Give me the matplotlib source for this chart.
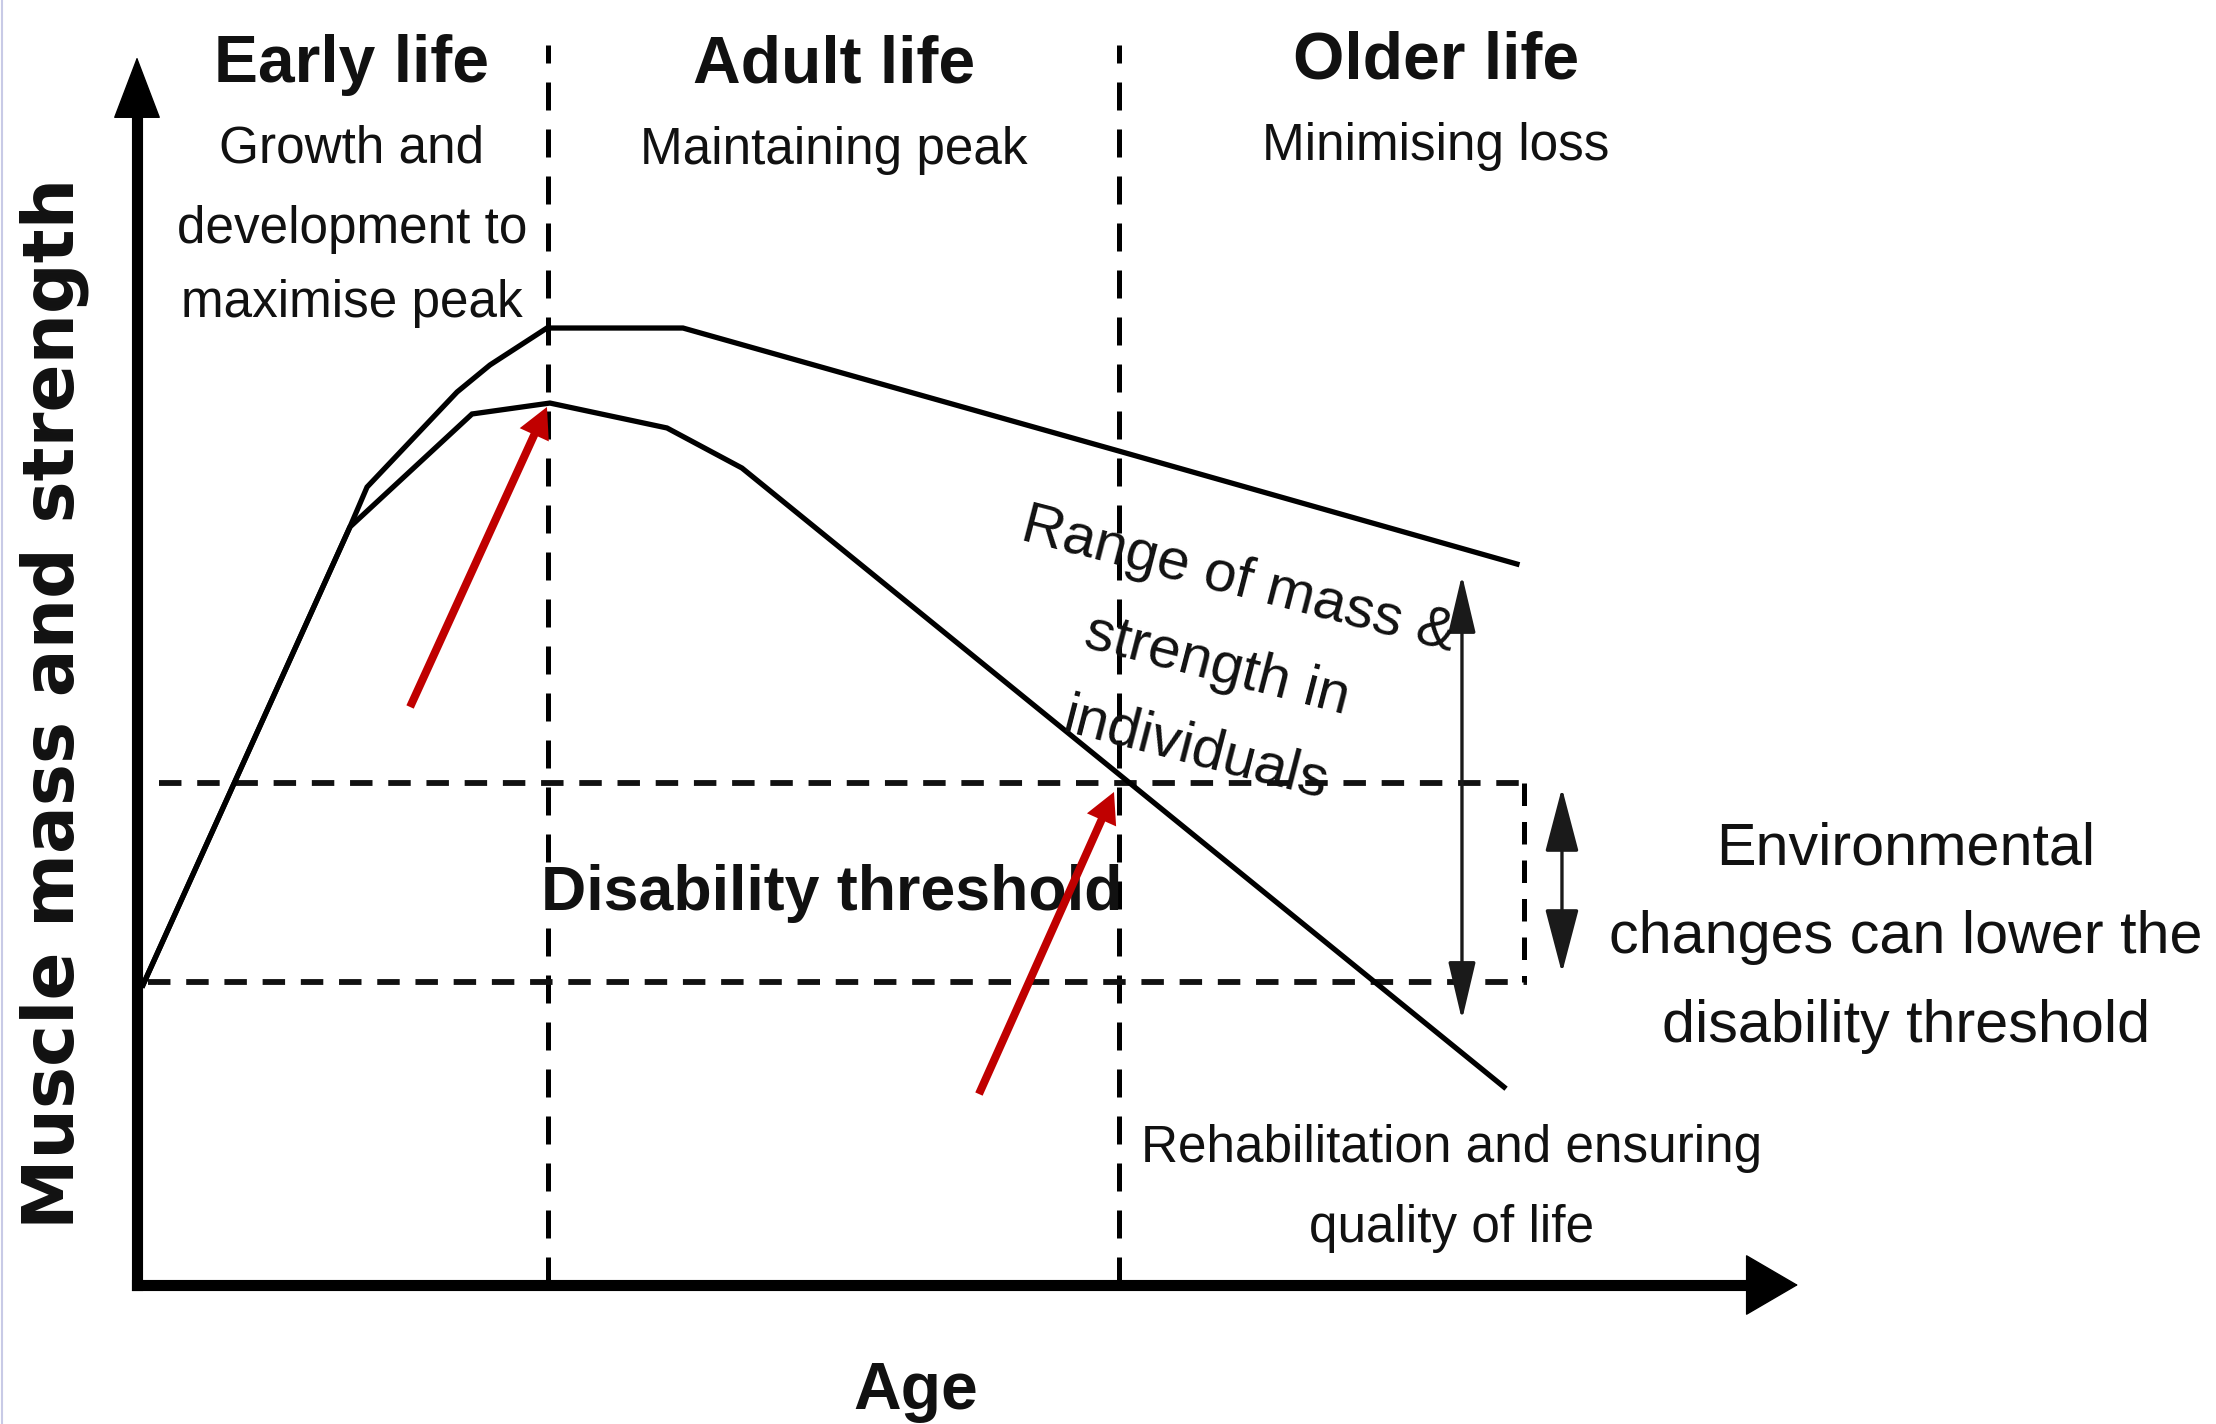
import matplotlib
matplotlib.use("Agg")
import matplotlib.pyplot as plt
from matplotlib import font_manager as fm
from matplotlib.lines import Line2D

# ---------------- data (conceptual units: age 0-100, strength 0-100) ----------------
age_upper = [0.36, 12.82, 13.85, 19.27, 21.25, 24.68, 32.87, 59.12, 83.08]
strength_upper = [24.43, 61.73, 64.98, 72.72, 74.92, 77.93, 77.93, 67.91, 58.71]

age_lower = [0.36, 12.82, 20.17, 24.86, 31.91, 36.42, 82.30]
strength_lower = [24.43, 61.73, 70.93, 71.82, 69.79, 66.53, 16.12]

stage_bounds = [24.74, 59.12]          # ages separating life stages
stage_line_top = 100.98
threshold_levels = [40.88, 24.67]      # disability threshold (normal, lowered)
threshold_starts = [1.32, 0.66]
threshold_end = 83.68
env_box_age = 83.50

stage_titles = ["Early life", "Adult life", "Older life"]
stage_centres = [12.94, 41.96, 78.20]
stage_title_y = [97.96, 97.96, 98.29]
stage_subtitles = [["Growth and", "development to", "maximise peak"],
                   ["Maintaining peak"],
                   ["Minimising loss"]]
stage_subtitle_y = [[91.37, 84.85, 78.83], [91.29], [91.61]]

red_arrow_tails = [(16.44, 47.07), (50.69, 15.55)]
red_arrow_tips = [(24.68, 71.50), (58.82, 40.15)]

range_arrow_age = 79.77
range_arrow_span = (21.58, 57.82)
env_arrow_age = 85.79
env_arrow_span = (25.41, 40.47)

# ---------------- fonts ----------------
def font_available(name):
    try:
        fm.findfont(fm.FontProperties(family=name), fallback_to_default=False)
        return True
    except Exception:
        return False

if font_available("Liberation Sans Narrow"):
    FAM = ["Liberation Sans Narrow", "DejaVu Sans"]
    K = 1.0
else:
    FAM = ["Liberation Sans", "DejaVu Sans"]
    K = 0.82

RED = "#C00000"

fig = plt.figure(figsize=(22.16, 14.24), dpi=100)
fig.patch.set_facecolor("white")
ax = fig.add_axes([0, 0, 1, 1])
ax.set_xlim(-8.248, 125.166)
ax.set_ylim(-11.319, 104.642)
ax.axis("off")

# faint left border of the original picture
fig.add_artist(Line2D([0.0007, 0.0007], [0, 1], transform=fig.transFigure,
                      color="#c8cae6", lw=1.5))

# ---------------- axes with arrows ----------------
ax.plot([0, 0], [0, 95.7], color="black", lw=8, solid_capstyle="projecting", zorder=5)
ax.plot([0, 97.7], [0, 0], color="black", lw=8, solid_capstyle="projecting", zorder=5)
ax.annotate("", xy=(0, 100), xytext=(0, 90),
            arrowprops=dict(arrowstyle="-|>,head_length=42,head_width=16",
                            mutation_scale=1, lw=1, color="black",
                            shrinkA=0, shrinkB=0), zorder=6)
ax.annotate("", xy=(100, 0), xytext=(94, 0),
            arrowprops=dict(arrowstyle="-|>,head_length=36,head_width=21",
                            mutation_scale=1, lw=1, color="black",
                            shrinkA=0, shrinkB=0), zorder=6)

# ---------------- dashed guide lines ----------------
for b in stage_bounds:
    ax.plot([b, b], [0, stage_line_top], color="black", lw=3.6,
            linestyle=(0, (5.6, 3.8)), zorder=2)
for lvl, x0 in zip(threshold_levels, threshold_starts):
    ax.plot([x0, threshold_end], [lvl, lvl], color="#111111", lw=4.2,
            linestyle=(0, (3.85, 2.7)), zorder=2)
ax.plot([env_box_age, env_box_age], threshold_levels, color="black", lw=3.6,
        linestyle=(0, (4.5, 3.2)), zorder=2)

# ---------------- curves ----------------
ax.plot(age_upper, strength_upper, color="black", lw=3.8, zorder=4,
        solid_joinstyle="miter")
ax.plot(age_lower, strength_lower, color="black", lw=3.8, zorder=4,
        solid_joinstyle="miter")

# ---------------- arrows ----------------
for tail, tip in zip(red_arrow_tails, red_arrow_tips):
    ax.annotate("", xy=tip, xytext=tail,
                arrowprops=dict(arrowstyle="simple,head_length=22,head_width=23,tail_width=5.8",
                                mutation_scale=1, color=RED, lw=0,
                                shrinkA=0, shrinkB=0), zorder=8)

ax.annotate("", xy=(range_arrow_age, range_arrow_span[0]),
            xytext=(range_arrow_age, range_arrow_span[1]),
            arrowprops=dict(arrowstyle="<|-|>,head_length=36,head_width=8.5",
                            mutation_scale=1, color="#1a1a1a", lw=2.4,
                            shrinkA=0, shrinkB=0), zorder=6)
ax.annotate("", xy=(env_arrow_age, env_arrow_span[0]),
            xytext=(env_arrow_age, env_arrow_span[1]),
            arrowprops=dict(arrowstyle="<|-|>,head_length=40,head_width=10.5",
                            mutation_scale=1, color="#1a1a1a", lw=2.4,
                            shrinkA=0, shrinkB=0), zorder=6)

# ---------------- texts ----------------
def txt(x, y, s, size, bold=False, **kw):
    ax.text(x, y, s, fontsize=size * K, fontweight="bold" if bold else "normal",
            family=FAM, ha="center", va="baseline", color="#111111", zorder=7, **kw)

for title, cx, ty, subs, sys_ in zip(stage_titles, stage_centres, stage_title_y,
                                     stage_subtitles, stage_subtitle_y):
    txt(cx, ty, title, 58, bold=True)
    for s, sy in zip(subs, sys_):
        txt(cx, sy, s, 45)

txt(41.84, 30.54, "Disability threshold", 55, bold=True)
txt(46.90, -10.10, "Age", 58, bold=True)

for s, sy in zip(["Environmental", "changes can lower the", "disability threshold"],
                 [34.28, 27.04, 19.79]):
    txt(106.50, sy, s, 52)

for s, sy in zip(["Rehabilitation and ensuring", "quality of life"], [10.02, 3.50]):
    txt(79.17, sy, s, 45)

ax.text(65.02, 50.45, "Range of mass &\nstrength in\nindividuals",
        rotation=-14.5, rotation_mode="anchor", ha="center", va="center",
        multialignment="center", linespacing=1.8, fontsize=51 * K,
        family=FAM, color="#111111", zorder=7)

ax.text(-5.0, 47.39, "Muscle mass and strength", rotation=90,
        ha="center", va="center", fontsize=51, fontweight="bold",
        family=["DejaVu Sans"], color="#111111", zorder=7)

fig.savefig("out.png", dpi=100, facecolor="white")
